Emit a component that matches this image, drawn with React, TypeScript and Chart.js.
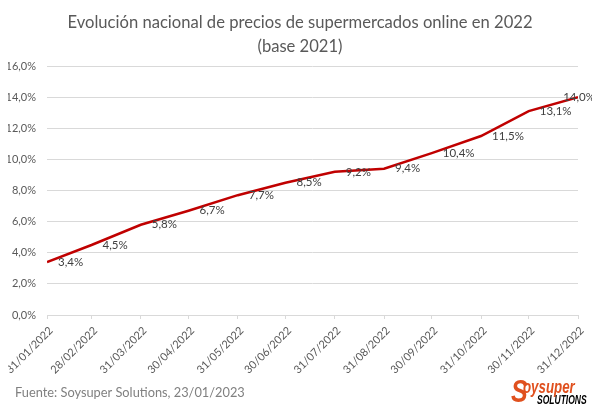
import { useEffect, useRef } from 'react';
import { Chart, registerables, Plugin } from 'chart.js';

Chart.register(...registerables);

const dates = [
  '31/01/2022', '28/02/2022', '31/03/2022', '30/04/2022', '31/05/2022', '30/06/2022',
  '31/07/2022', '31/08/2022', '30/09/2022', '31/10/2022', '30/11/2022', '31/12/2022',
];
const priceChange = [3.4, 4.5, 5.8, 6.7, 7.7, 8.5, 9.2, 9.4, 10.4, 11.5, 13.1, 14.0];
const yTicks = [0, 2, 4, 6, 8, 10, 12, 14, 16];

const titleLines = ['Evolución nacional de precios de supermercados online en 2022', '(base 2021)'];
const sourceText = 'Fuente: Soysuper Solutions, 23/01/2023';

const FONT = 'Lato, "Noto Sans", sans-serif';

// dd/mm/yyyy -> day number, so the axis keeps the real spacing between month ends
function toDay(s: string) {
  const [d, m, y] = s.split('/').map(Number);
  return Date.UTC(y, m - 1, d) / 86400000;
}
const days = dates.map(toDay);

const pct = (v: number) => `${v.toFixed(1).replace('.', ',')}%`;

const decorations: Plugin<'line'> = {
  id: 'decorations',
  afterDatasetsDraw(chart) {
    const ctx = chart.ctx;
    const meta = chart.getDatasetMeta(0);
    ctx.save();
    ctx.font = `11.5px ${FONT}`;
    ctx.fillStyle = '#404040';
    ctx.textBaseline = 'middle';
    ctx.textAlign = 'left';
    meta.data.forEach((pt, i) => {
      const text = pct(priceChange[i]);
      const w = ctx.measureText(text).width;
      const x = Math.min(pt.x + 11, 595 - w);
      ctx.fillText(text, x, pt.y);
    });
    ctx.restore();
  },
  afterDraw(chart) {
    const ctx = chart.ctx;
    ctx.save();
    // frame
    ctx.strokeStyle = '#d0d0d0';
    ctx.lineWidth = 1;
    ctx.strokeRect(0.5, 0.5, 599, 414);
    // title
    ctx.fillStyle = '#595959';
    ctx.textAlign = 'center';
    ctx.textBaseline = 'alphabetic';
    ctx.font = `16.6px ${FONT}`;
    ctx.fillText(titleLines[0], 300, 28);
    ctx.fillText(titleLines[1], 300, 52);
    // source
    ctx.textAlign = 'left';
    ctx.fillStyle = '#808080';
    ctx.font = `12.8px ${FONT}`;
    ctx.fillText(sourceText, 15, 397);
    // logo
    ctx.fillStyle = '#e0501e';
    ctx.save();
    ctx.translate(511, 402);
    ctx.scale(0.78, 1);
    ctx.font = `italic bold 32px "Liberation Sans", Arial, sans-serif`;
    ctx.fillText('S', 0, 0);
    ctx.restore();
    ctx.save();
    ctx.translate(523, 393);
    ctx.scale(0.7, 1);
    ctx.font = `italic bold 19px "Liberation Sans", Arial, sans-serif`;
    ctx.fillText('oysuper', 0, 0);
    ctx.restore();
    ctx.save();
    ctx.fillStyle = '#000000';
    ctx.translate(537, 404);
    ctx.scale(0.71, 1);
    ctx.font = `italic bold 12px "Liberation Sans", Arial, sans-serif`;
    ctx.fillText('SOLUTIONS', 0, 0);
    ctx.restore();
    ctx.restore();
  },
};

export default function App() {
  const canvasRef = useRef<HTMLCanvasElement>(null);
  const chartRef = useRef<Chart<'line'> | null>(null);

  useEffect(() => {
    if (!canvasRef.current) return;
    if (chartRef.current) chartRef.current.destroy();

    chartRef.current = new Chart(canvasRef.current, {
      type: 'line',
      data: {
        datasets: [
          {
            data: days.map((d, i) => ({ x: d, y: priceChange[i] })),
            borderColor: '#c00000',
            borderWidth: 2.5,
            pointRadius: 0,
            tension: 0,
            fill: false,
          },
        ],
      },
      options: {
        animation: false,
        responsive: true,
        maintainAspectRatio: false,
        layout: { padding: { top: 66, right: 22, bottom: 40, left: 0 } },
        plugins: {
          legend: { display: false },
          title: { display: false },
          tooltip: { enabled: false },
        },
        scales: {
          x: {
            type: 'linear',
            min: days[0],
            max: days[days.length - 1],
            afterBuildTicks: (scale) => {
              scale.ticks = days.map((v) => ({ value: v }));
            },
            afterFit: (scale) => {
              scale.height = 60;
              scale.paddingLeft = 0;
              scale.paddingRight = 0;
            },
            grid: {
              drawOnChartArea: false,
              drawTicks: true,
              tickLength: 4,
              color: '#d9d9d9',
            },
            border: { display: true, color: '#d9d9d9' },
            ticks: {
              autoSkip: false,
              maxRotation: 45,
              minRotation: 45,
              padding: 5,
              labelOffset: 4,
              color: '#595959',
              font: { family: FONT, size: 11 },
              callback: (value) => dates[days.indexOf(Number(value))] ?? '',
            },
          },
          y: {
            min: 0,
            max: 16,
            afterBuildTicks: (scale) => {
              scale.ticks = yTicks.map((v) => ({ value: v }));
            },
            afterFit: (scale) => {
              scale.width = 47;
            },
            grid: { color: '#d9d9d9', drawTicks: false },
            border: { display: false },
            ticks: {
              padding: 11,
              color: '#595959',
              font: { family: FONT, size: 11 },
              callback: (value) => pct(Number(value)),
            },
          },
        },
      },
      plugins: [decorations],
    });

    return () => {
      chartRef.current?.destroy();
      chartRef.current = null;
    };
  }, []);

  return (
    <div style={{ position: 'relative', width: 600, height: 415, margin: -8, background: '#fff' }}>
      <canvas ref={canvasRef}></canvas>
    </div>
  );
}
